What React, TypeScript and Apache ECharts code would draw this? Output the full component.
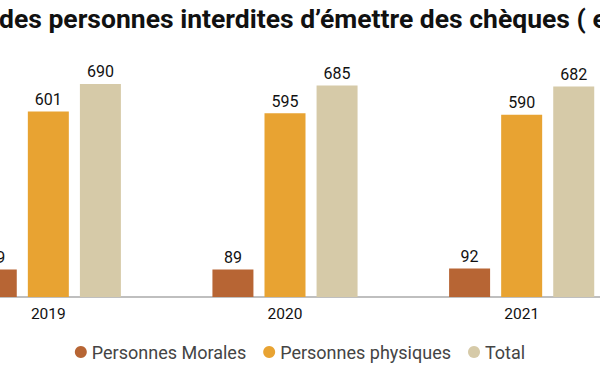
import React, { useEffect, useRef } from "react";
import * as echarts from "echarts";

const categories = ["2019", "2020", "2021"];
const morales = [89, 89, 92];
const physiques = [601, 595, 590];
const total = [690, 685, 682];
const seriesNames = ["Personnes Morales", "Personnes physiques", "Total"];
const titleText = "des personnes interdites d\u2019émettre des chèques ( e";

const OFFSET = 100;

export default function App() {
  const ref = useRef<HTMLDivElement>(null);
  useEffect(() => {
    if (!ref.current) return;
    const chart = echarts.init(ref.current, undefined, { renderer: "svg" });
    const colors = ["#B76534", "#E8A332", "#D6CAA8"];
    const datasets = [morales, physiques, total];
    chart.setOption({
      animation: false,
      backgroundColor: "#ffffff",
      title: {
        text: titleText,
        left: OFFSET - 1,
        top: 5,
        padding: 0,
        textStyle: { fontFamily: "Roboto", fontWeight: "bold", fontSize: 26.5, color: "#111" },
      },
      legend: {
        bottom: 6,
        left: "center",
        icon: "circle",
        itemWidth: 12,
        itemHeight: 12,
        itemGap: 17,
        textStyle: { fontFamily: "Roboto", fontSize: 18, color: "#444" },
        data: seriesNames,
      },
      grid: { left: OFFSET - 70, width: 710, top: 50, height: 247 },
      xAxis: {
        type: "category",
        data: categories,
        axisLine: { lineStyle: { color: "#aaaaaa", width: 1.5 } },
        axisTick: { show: false },
        axisLabel: { margin: 9, fontFamily: "Roboto", fontSize: 15.5, color: "#111" },
      },
      yAxis: { type: "value", min: 0, max: 800, show: false, splitLine: { show: false } },
      series: datasets.map((d, i) => ({
        name: seriesNames[i],
        type: "bar",
        data: d,
        barWidth: 41,
        barGap: "27%",
        itemStyle: { color: colors[i] },
        label: {
          show: true,
          position: "top",
          distance: 4,
          fontFamily: "Roboto",
          fontSize: 16,
          color: "#111",
        },
      })),
    });
    return () => chart.dispose();
  }, []);
  return (
    <div style={{ position: "fixed", left: 0, top: 0, width: 600, height: 372, overflow: "hidden", background: "#fff" }}>
      <div ref={ref} style={{ position: "absolute", left: -OFFSET, top: 0, width: 600 + 2 * OFFSET, height: 372 }} />
    </div>
  );
}
